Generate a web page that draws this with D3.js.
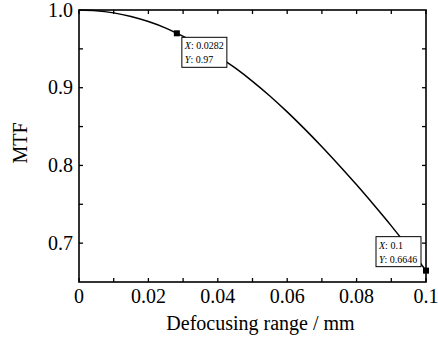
<!DOCTYPE html>
<html>
<head>
<meta charset="utf-8">
<script src="https://cdn.jsdelivr.net/npm/d3@7"></script>
<style>
  body { margin: 0; background: #fff; }
  svg { display: block; }
</style>
</head>
<body>
<div id="chart"></div>
<script>
// defocus (mm) and MTF values
const defocus = [0, 0.005, 0.01, 0.015, 0.02, 0.025, 0.0282, 0.035, 0.04, 0.045, 0.05,
  0.055, 0.06, 0.065, 0.07, 0.075, 0.08, 0.085, 0.09, 0.095, 0.1];
const mtf = [1.0, 0.9991, 0.9963, 0.9917, 0.9851, 0.9767, 0.97, 0.9545, 0.9408, 0.9254, 0.9082,
  0.8894, 0.8689, 0.847, 0.824, 0.7999, 0.775, 0.749, 0.7222, 0.694, 0.6646];
const xTicks = [0, 0.02, 0.04, 0.06, 0.08, 0.1];
const xTickLabels = ['0', '0.02', '0.04', '0.06', '0.08', '0.1'];
const yTicks = [0.7, 0.8, 0.9, 1.0];
// data tips shown on the chart
const tipX = [0.0282, 0.1];
const tipY = [0.97, 0.6646];
const tipLabelX = ['0.0282', '0.1'];
const tipLabelY = ['0.97', '0.6646'];

const width = 438, height = 338;
const margin = { top: 10, right: 12, bottom: 56, left: 79 };
const font = 'Liberation Serif';

const svg = d3.select('#chart').append('svg')
  .attr('width', width)
  .attr('height', height);

const x = d3.scaleLinear().domain([0, 0.1]).range([margin.left, width - margin.right]);
const y = d3.scaleLinear().domain([0.65, 1.0]).range([height - margin.bottom, margin.top]);

const x0 = x.range()[0], x1 = x.range()[1];
const y0 = y.range()[0], y1 = y.range()[1];

// tick marks pointing inward on all four sides
const minorX = d3.range(0, 11).map(i => i * 0.01);
const minorY = [0.7, 0.75, 0.8, 0.85, 0.9, 0.95];
const tickLen = 4;
const ticks = svg.append('g').attr('stroke', '#000').attr('stroke-width', 1.3);
minorX.forEach(v => {
  ticks.append('line').attr('x1', x(v)).attr('x2', x(v)).attr('y1', y0).attr('y2', y0 - tickLen);
  ticks.append('line').attr('x1', x(v)).attr('x2', x(v)).attr('y1', y1).attr('y2', y1 + tickLen);
});
minorY.forEach(v => {
  ticks.append('line').attr('x1', x0).attr('x2', x0 + tickLen).attr('y1', y(v)).attr('y2', y(v));
  ticks.append('line').attr('x1', x1).attr('x2', x1 - tickLen).attr('y1', y(v)).attr('y2', y(v));
});

// frame
svg.append('rect')
  .attr('x', x0).attr('y', y1)
  .attr('width', x1 - x0).attr('height', y0 - y1)
  .attr('fill', 'none').attr('stroke', '#000').attr('stroke-width', 1.6);

// tick labels
svg.append('g').selectAll('text')
  .data(xTicks)
  .enter()
  .append('text')
  .attr('x', d => x(d))
  .attr('y', y0 + 21)
  .attr('text-anchor', 'middle')
  .style('font-family', font)
  .attr('font-size', 20)
  .text((d, i) => xTickLabels[i]);

svg.append('g').selectAll('text')
  .data(yTicks)
  .enter()
  .append('text')
  .attr('x', x0 - 6)
  .attr('y', d => y(d) + 6.5)
  .attr('text-anchor', 'end')
  .style('font-family', font)
  .attr('font-size', 20)
  .text(d => d.toFixed(1));

// axis titles
svg.append('text')
  .attr('x', (x0 + x1) / 2 + 8)
  .attr('y', 330)
  .attr('text-anchor', 'middle')
  .style('font-family', font)
  .attr('font-size', 20)
  .text('Defocusing range / mm');

svg.append('text')
  .attr('transform', `translate(27,${(y0 + y1) / 2 - 3}) rotate(-90)`)
  .attr('text-anchor', 'middle')
  .style('font-family', font)
  .attr('font-size', 20)
  .text('MTF');

// curve
const line = d3.line()
  .x((d, i) => x(defocus[i]))
  .y(d => y(d))
  .curve(d3.curveMonotoneX);

svg.append('path')
  .datum(mtf)
  .attr('d', line)
  .attr('fill', 'none')
  .attr('stroke', '#000')
  .attr('stroke-width', 1.5);

// data tip markers
svg.append('g').selectAll('rect')
  .data(tipX)
  .enter()
  .append('rect')
  .attr('x', d => x(d) - 3)
  .attr('y', (d, i) => y(tipY[i]) - 3)
  .attr('width', 6)
  .attr('height', 6)
  .attr('fill', '#000');

// data tip boxes: offset from marker
const tipBox = [
  { dx: 5, dy: 4, w: 45, h: 30 },
  { dx: -50, dy: -34, w: 45, h: 30 }
];
tipX.forEach((v, i) => {
  const b = tipBox[i];
  const bx = x(v) + b.dx, by = y(tipY[i]) + b.dy;
  const g = svg.append('g');
  g.append('rect')
    .attr('x', bx).attr('y', by)
    .attr('width', b.w).attr('height', b.h)
    .attr('fill', '#fff').attr('stroke', '#000').attr('stroke-width', 1);
  const t1 = g.append('text').attr('x', bx + 3).attr('y', by + 12)
    .style('font-family', font).attr('font-size', 10);
  t1.append('tspan').attr('font-style', 'italic').text('X');
  t1.append('tspan').text(': ' + tipLabelX[i]);
  const t2 = g.append('text').attr('x', bx + 3).attr('y', by + 26)
    .style('font-family', font).attr('font-size', 10);
  t2.append('tspan').attr('font-style', 'italic').text('Y');
  t2.append('tspan').text(': ' + tipLabelY[i]);
});
</script>
</body>
</html>
